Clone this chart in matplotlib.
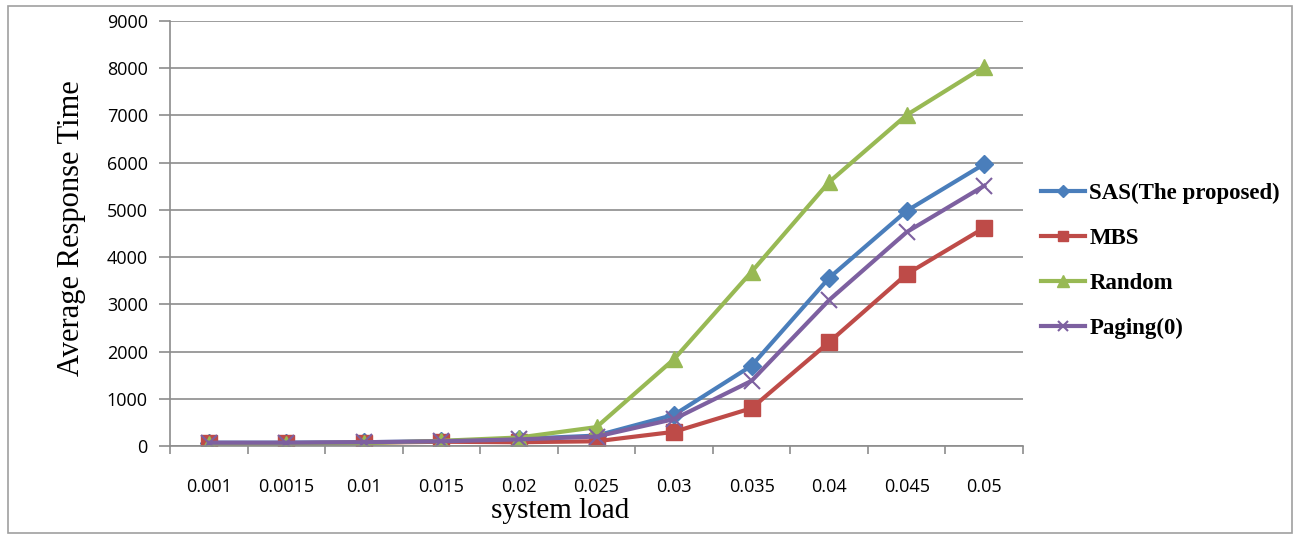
import numpy as np
import matplotlib
matplotlib.use("Agg")
import matplotlib.pyplot as plt
from matplotlib.patches import Rectangle

loads = ["0.001", "0.0015", "0.01", "0.015", "0.02", "0.025", "0.03", "0.035", "0.04", "0.045", "0.05"]
sas = [70, 70, 80, 100, 150, 220, 660, 1700, 3560, 4980, 5970]
mbs = [60, 60, 70, 90, 80, 100, 300, 800, 2200, 3640, 4620]
rnd = [50, 50, 60, 110, 180, 400, 1840, 3690, 5590, 7010, 8030]
paging = [70, 70, 80, 100, 140, 200, 570, 1380, 3090, 4530, 5510]

fig = plt.figure(figsize=(13.02, 5.35), dpi=100)
fig.patches.append(Rectangle((8 / 1302, 1 - 533 / 535), 1284 / 1302, 527 / 535,
                             transform=fig.transFigure, fill=False,
                             edgecolor="#a0a0a0", linewidth=1.2))
ax = fig.add_axes([170 / 1302, 1 - 446 / 535, 853 / 1302, 425 / 535])

x = np.arange(len(loads))
ax.plot(x, sas, color="#4a7ebb", lw=3, marker="D", ms=9, label="SAS(The proposed)")
ax.plot(x, mbs, color="#be4b48", lw=3, marker="s", ms=11, label="MBS")
ax.plot(x, rnd, color="#98b954", lw=3, marker="^", ms=12, label="Random")
ax.plot(x, paging, color="#7d60a0", lw=3, marker="x", ms=11, mew=1.5, label="Paging(0)")

ax.set_xlim(-0.5, len(loads) - 0.5)
ax.set_ylim(0, 9000)
ax.set_yticks(range(0, 9001, 1000))
ax.yaxis.grid(True, color="#8c8c8c", lw=1.2)
ax.set_axisbelow(True)
ax.set_xticks(x)
ax.set_xticklabels(loads, fontsize=13, family="Open Sans")
ax.set_xticks(np.arange(-0.5, len(loads), 1), minor=True)
ax.tick_params(axis="x", which="major", length=0, pad=23)
ax.tick_params(axis="x", which="minor", length=6, color="#8c8c8c", width=1.2)
ax.tick_params(axis="y", length=8, color="#8c8c8c", width=1.2, pad=8)
for lbl in ax.get_yticklabels():
    lbl.set_fontsize(13)
    lbl.set_family("Open Sans")
for s in ["top", "right"]:
    ax.spines[s].set_visible(False)
for s in ["left", "bottom"]:
    ax.spines[s].set_color("#8c8c8c")
    ax.spines[s].set_linewidth(1.2)

ax.set_xlabel("system load", family="Liberation Serif", fontsize=21)
ax.xaxis.set_label_coords((560 - 170) / 853, (446 - 498) / 425)
ax.set_ylabel("Average Response Time", family="Liberation Serif", fontsize=22)
ax.yaxis.set_label_coords((86 - 170) / 853, (446 - 228) / 425)

ax.legend(loc="center left", bbox_to_anchor=(1.0, 0.435), frameon=False,
          prop={"family": "Liberation Serif", "weight": "bold", "size": 16.5},
          handlelength=1.9, handletextpad=0.2, labelspacing=1.05, borderaxespad=0.4,
          markerscale=0.7)

fig.savefig("out.png", dpi=100)
